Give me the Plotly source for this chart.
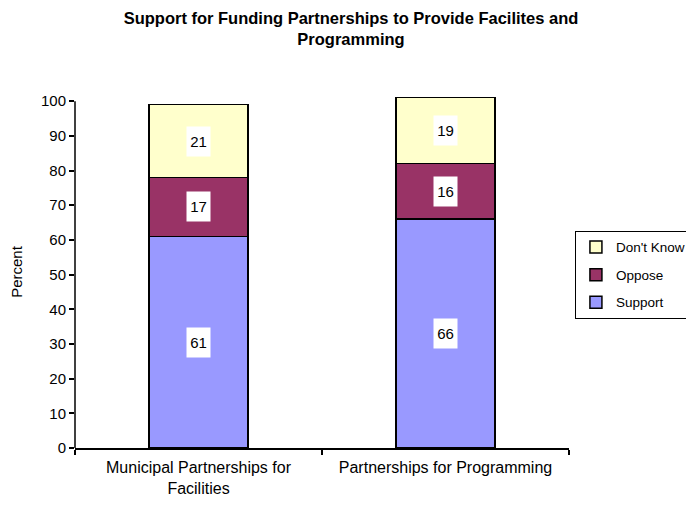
import plotly.graph_objects as go

categories = ["Municipal Partnerships for<br>Facilities", "Partnerships for Programming"]
support = [61, 66]
oppose = [17, 16]
dont_know = [21, 19]
y_ticks = [0, 10, 20, 30, 40, 50, 60, 70, 80, 90, 100]

series = [
    ("Support", support, "#9999FF", 3),
    ("Oppose", oppose, "#993366", 2),
    ("Don't Know", dont_know, "#FFFFCC", 1),
]

FONT = "Liberation Sans, Arial, sans-serif"

fig = go.Figure()
for name, vals, color, rank in series:
    fig.add_trace(go.Bar(
        x=categories, y=vals, name=name, legendgroup=name, legendrank=rank,
        marker=dict(color=color, line=dict(color="black", width=1.5)),
        width=0.4,
    ))

annotations = []
for i, cat in enumerate(categories):
    base = 0
    for name, vals, color, rank in series:
        v = vals[i]
        annotations.append(dict(
            x=cat, y=base + v / 2, xref="x", yref="y", text=str(v),
            showarrow=False, bgcolor="white", width=17, height=23, borderpad=3,
            font=dict(family=FONT, size=15, color="black"),
        ))
        base += v

fig.update_layout(
    barmode="stack",
    width=686, height=490,
    margin=dict(l=67, r=125, t=88, b=50, autoexpand=False),
    paper_bgcolor="white", plot_bgcolor="white",
    font=dict(family=FONT, size=15, color="black"),
    title=dict(
        text="<b>Support for Funding Partnerships to Provide Facilites and<br>Programming</b>",
        x=0.5, xanchor="center", y=0.9675, yanchor="top",
        font=dict(size=16.5, family=FONT, color="black"),
    ),
    legend=dict(
        x=1.012, y=0.617, xanchor="left", yanchor="top",
        traceorder="grouped", tracegroupgap=7,
        bordercolor="black", borderwidth=1,
        font=dict(size=13.5, family=FONT),
    ),
    annotations=annotations,
    bargap=0.6,
)
fig.update_xaxes(
    showline=True, linecolor="black", linewidth=1.5,
    ticks="outside", tickson="boundaries", ticklen=5, tickcolor="black", tickwidth=1.5,
    showgrid=False, tickfont=dict(size=16), ticklabelstandoff=4,
)
fig.update_yaxes(
    range=[0, 101.5], tickvals=y_ticks,
    showline=False, ticks="outside", ticklen=5, tickcolor="black", tickwidth=1.5,
    showgrid=False, zeroline=False, tickfont=dict(size=15),
    title=dict(text="Percent", font=dict(size=15), standoff=14),
)
fig.add_shape(type="line", xref="paper", yref="y", x0=0, x1=0, y0=0, y1=100,
              line=dict(color="black", width=1.5))

fig.write_html("out.html")
